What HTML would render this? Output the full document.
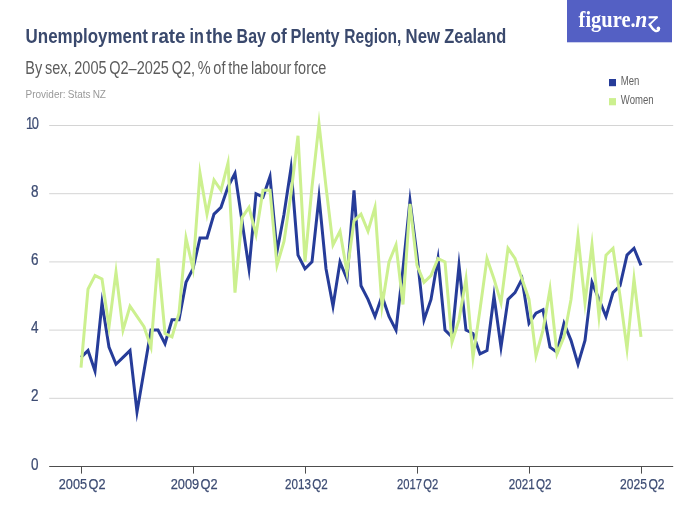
<!DOCTYPE html>
<html><head><meta charset="utf-8"><title>Unemployment rate in the Bay of Plenty Region, New Zealand</title>
<style>
html,body{margin:0;padding:0;background:#fff;}
body{width:700px;height:525px;overflow:hidden;font-family:"Liberation Sans",sans-serif;}
svg{display:block;will-change:transform;}
text{font-family:"Liberation Sans",sans-serif;}
.ax{font-size:15.4px;fill:#3d4c73;stroke:#3d4c73;stroke-width:0.25px;}
.xl{word-spacing:-2.5px;font-size:15.2px;}
.yl{font-size:15.9px;}
</style></head><body>
<svg width="700" height="525" viewBox="0 0 700 525">
<rect width="700" height="525" fill="#ffffff"/>
<text x="25.60" y="42.7" font-size="20" font-weight="bold" fill="#3a496d" textLength="122.30" lengthAdjust="spacingAndGlyphs">Unemployment</text><text x="151.10" y="42.7" font-size="20" font-weight="bold" fill="#3a496d" textLength="34.40" lengthAdjust="spacingAndGlyphs">rate</text><text x="189.60" y="42.7" font-size="20" font-weight="bold" fill="#3a496d" textLength="14.40" lengthAdjust="spacingAndGlyphs">in</text><text x="206.00" y="42.7" font-size="20" font-weight="bold" fill="#3a496d" textLength="26.60" lengthAdjust="spacingAndGlyphs">the</text><text x="236.60" y="42.7" font-size="20" font-weight="bold" fill="#3a496d" textLength="29.30" lengthAdjust="spacingAndGlyphs">Bay</text><text x="270.60" y="42.7" font-size="20" font-weight="bold" fill="#3a496d" textLength="16.20" lengthAdjust="spacingAndGlyphs">of</text><text x="290.50" y="42.7" font-size="20" font-weight="bold" fill="#3a496d" textLength="49.00" lengthAdjust="spacingAndGlyphs">Plenty</text><text x="344.30" y="42.7" font-size="20" font-weight="bold" fill="#3a496d" textLength="57.00" lengthAdjust="spacingAndGlyphs">Region,</text><text x="405.60" y="42.7" font-size="20" font-weight="bold" fill="#3a496d" textLength="34.40" lengthAdjust="spacingAndGlyphs">New</text><text x="444.30" y="42.7" font-size="20" font-weight="bold" fill="#3a496d" textLength="61.90" lengthAdjust="spacingAndGlyphs">Zealand</text>
<text x="25.3" y="74.3" font-size="17.6" fill="#5c5c5c" style="word-spacing:-1.6px" textLength="301" lengthAdjust="spacingAndGlyphs">By sex, 2005 Q2–2025 Q2, % of the labour force</text>
<text x="25.5" y="97.9" font-size="11.8" fill="#999999" style="word-spacing:-0.8px" textLength="80.5" lengthAdjust="spacingAndGlyphs">Provider: Stats NZ</text>
<rect x="567" y="0" width="105" height="42.3" fill="#5460c4"/>
<text x="578.6" y="26.5" font-size="22.6" font-weight="bold" fill="#fff" textLength="57" lengthAdjust="spacingAndGlyphs" style="font-family:'Liberation Serif',serif">figure.</text>
<text x="635.2" y="26.5" font-size="22.6" font-weight="bold" font-style="italic" fill="#fff" textLength="12" lengthAdjust="spacingAndGlyphs" style="font-family:'Liberation Serif',serif">n</text>
<g stroke="#fff" fill="none" stroke-linecap="round">
<path d="M648.6 17.3 L657.4 17.3" stroke-width="2.2" stroke-linecap="butt"/>
<path d="M657.2 17.2 L649.5 24.6" stroke-width="1.6"/>
<path d="M649.6 24.6 C651 25.4 651.8 29 655 30.6 C657.2 31.6 659 30.4 658.9 28.8" stroke-width="2.5"/>
<circle cx="658.4" cy="28.2" r="1.7" fill="#fff" stroke="none"/>
</g>
<rect x="609" y="79" width="7" height="7.2" fill="#263c99"/>
<rect x="609" y="98.1" width="7" height="7.2" fill="#ccf08f"/>
<text x="620.8" y="84.8" font-size="12" fill="#626262" textLength="18.6" lengthAdjust="spacingAndGlyphs">Men</text>
<text x="620.8" y="103.9" font-size="12" fill="#626262" textLength="32.8" lengthAdjust="spacingAndGlyphs">Women</text>
<line x1="49.2" x2="673.2" y1="398.3" y2="398.3" stroke="#d4d4d4" stroke-width="1"/><line x1="49.2" x2="673.2" y1="330.1" y2="330.1" stroke="#d4d4d4" stroke-width="1"/><line x1="49.2" x2="673.2" y1="261.9" y2="261.9" stroke="#d4d4d4" stroke-width="1"/><line x1="49.2" x2="673.2" y1="193.7" y2="193.7" stroke="#d4d4d4" stroke-width="1"/><line x1="49.2" x2="673.2" y1="125.5" y2="125.5" stroke="#d4d4d4" stroke-width="1"/>
<line x1="49.2" x2="673.2" y1="466.5" y2="466.5" stroke="#4d4d4d" stroke-width="1"/>
<text transform="translate(38.6 469.6) scale(0.85 1)" x="0" y="0" text-anchor="end" class="ax yl">0</text><text transform="translate(38.6 401.4) scale(0.85 1)" x="0" y="0" text-anchor="end" class="ax yl">2</text><text transform="translate(38.6 333.2) scale(0.85 1)" x="0" y="0" text-anchor="end" class="ax yl">4</text><text transform="translate(38.6 265.0) scale(0.85 1)" x="0" y="0" text-anchor="end" class="ax yl">6</text><text transform="translate(38.6 196.8) scale(0.85 1)" x="0" y="0" text-anchor="end" class="ax yl">8</text><text transform="translate(37.6 128.6) scale(0.81 1)" x="0" y="0" text-anchor="end" class="ax yl" style="letter-spacing:-1.6px">10</text>
<text x="58.80" y="489.2" class="ax xl" textLength="46.70" lengthAdjust="spacingAndGlyphs">2005 Q2</text><line x1="81.5" x2="81.5" y1="466.5" y2="473.6" stroke="#4d4d4d" stroke-width="1"/><text x="170.70" y="489.2" class="ax xl" textLength="47.00" lengthAdjust="spacingAndGlyphs">2009 Q2</text><line x1="193.5" x2="193.5" y1="466.5" y2="473.6" stroke="#4d4d4d" stroke-width="1"/><text x="285.00" y="489.2" class="ax xl" textLength="42.70" lengthAdjust="spacingAndGlyphs">2013 Q2</text><line x1="305.5" x2="305.5" y1="466.5" y2="473.6" stroke="#4d4d4d" stroke-width="1"/><text x="397.00" y="489.2" class="ax xl" textLength="41.30" lengthAdjust="spacingAndGlyphs">2017 Q2</text><line x1="417.5" x2="417.5" y1="466.5" y2="473.6" stroke="#4d4d4d" stroke-width="1"/><text x="508.70" y="489.2" class="ax xl" textLength="42.80" lengthAdjust="spacingAndGlyphs">2021 Q2</text><line x1="529.5" x2="529.5" y1="466.5" y2="473.6" stroke="#4d4d4d" stroke-width="1"/><text x="620.10" y="489.2" class="ax xl" textLength="44.50" lengthAdjust="spacingAndGlyphs">2025 Q2</text><line x1="641.5" x2="641.5" y1="466.5" y2="473.6" stroke="#4d4d4d" stroke-width="1"/>
<path d="M81.00 357.38 L88.00 350.56 L95.00 371.02 L102.00 302.82 L109.00 347.15 L116.00 364.20 L123.00 357.38 L130.00 350.56 L137.00 411.94 L144.00 371.02 L151.00 330.10 L158.00 330.10 L165.00 343.74 L172.00 319.87 L179.00 319.87 L186.00 282.36 L193.00 268.72 L200.00 238.03 L207.00 238.03 L214.00 214.16 L221.00 207.34 L228.00 186.88 L235.00 173.24 L242.00 220.98 L249.00 268.72 L256.00 193.70 L263.00 197.11 L270.00 176.65 L277.00 251.67 L284.00 214.16 L291.00 168.12 L298.00 255.08 L305.00 268.72 L312.00 261.90 L319.00 197.11 L326.00 268.72 L333.00 306.23 L340.00 261.90 L347.00 278.95 L354.00 190.29 L361.00 285.77 L368.00 299.41 L375.00 316.46 L382.00 296.00 L389.00 316.46 L396.00 330.10 L403.00 268.72 L410.00 200.52 L417.00 255.08 L424.00 319.87 L431.00 299.41 L438.00 258.49 L445.00 330.10 L452.00 336.92 L459.00 265.31 L466.00 330.10 L473.00 333.51 L480.00 353.97 L487.00 350.56 L494.00 296.00 L501.00 347.15 L508.00 299.41 L515.00 292.59 L522.00 278.95 L529.00 323.28 L536.00 313.05 L543.00 309.64 L550.00 347.15 L557.00 352.26 L564.00 323.28 L571.00 340.33 L578.00 364.20 L585.00 340.33 L592.00 282.36 L599.00 299.41 L606.00 316.46 L613.00 292.59 L620.00 285.77 L627.00 255.08 L634.00 248.26 L641.00 265.31" fill="none" stroke="#263c99" stroke-width="3" stroke-linejoin="miter" stroke-miterlimit="10" stroke-linecap="butt"/>
<path d="M81.00 367.61 L88.00 289.18 L95.00 275.54 L102.00 278.95 L109.00 326.69 L116.00 272.13 L123.00 330.10 L130.00 306.23 L137.00 316.46 L144.00 326.69 L151.00 347.15 L158.00 258.49 L165.00 333.51 L172.00 336.92 L179.00 313.05 L186.00 238.03 L193.00 268.72 L200.00 173.24 L207.00 214.16 L214.00 180.06 L221.00 190.29 L228.00 163.01 L235.00 292.59 L242.00 217.57 L249.00 207.34 L256.00 234.62 L263.00 190.29 L270.00 190.29 L277.00 265.31 L284.00 241.44 L291.00 193.70 L298.00 135.73 L305.00 261.90 L312.00 186.88 L319.00 123.79 L326.00 186.88 L333.00 244.85 L340.00 231.21 L347.00 272.13 L354.00 220.98 L361.00 214.16 L368.00 231.21 L375.00 207.34 L382.00 306.23 L389.00 261.90 L396.00 244.85 L403.00 304.52 L410.00 203.93 L417.00 265.31 L424.00 282.36 L431.00 275.54 L438.00 258.49 L445.00 261.90 L452.00 342.03 L459.00 319.87 L466.00 278.95 L473.00 357.38 L480.00 309.64 L487.00 258.49 L494.00 278.95 L501.00 302.82 L508.00 248.26 L515.00 258.49 L522.00 278.95 L529.00 299.41 L536.00 355.68 L543.00 330.10 L550.00 289.18 L557.00 353.97 L564.00 336.92 L571.00 299.41 L578.00 236.32 L585.00 302.82 L592.00 244.85 L599.00 316.46 L606.00 255.08 L613.00 248.26 L620.00 296.00 L627.00 348.86 L634.00 278.95 L641.00 336.92" fill="none" stroke="#ccf08f" stroke-width="3" stroke-linejoin="miter" stroke-miterlimit="10" stroke-linecap="butt"/>
</svg>
</body></html>
